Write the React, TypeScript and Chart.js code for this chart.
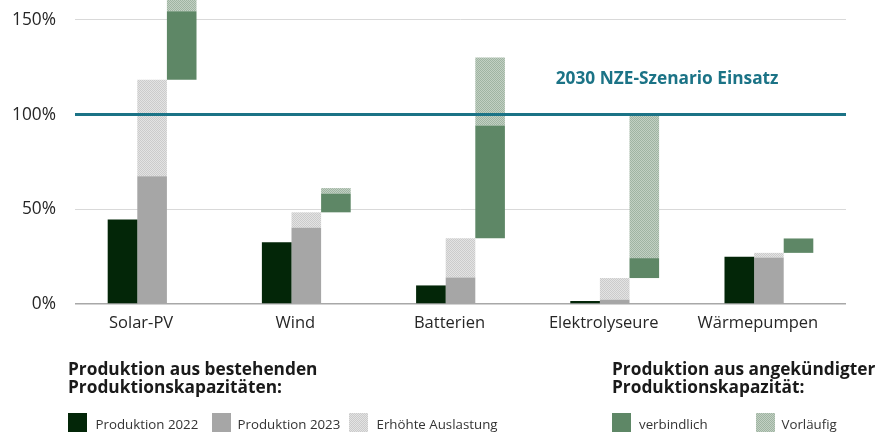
import React, { useEffect, useRef } from "react";
import { Chart, registerables } from "chart.js";

Chart.register(...registerables);

const categories = ["Solar-PV", "Wind", "Batterien", "Elektrolyseure", "Wärmepumpen"];
// Levels reached (in % of 2030 NZE deployment)
const prod2022 = [44.6, 32.6, 9.8, 1.6, 25.0];
const prod2023 = [67.4, 40.2, 14.0, 2.3, 24.6];
const erhoehteAuslastung = [118.4, 48.4, 34.7, 13.7, 27.0];
const verbindlich = [154.6, 58.3, 94.2, 24.2, 34.6];
const vorlaeufig = [175.0, 61.2, 130.2, 100.0, 34.6];
const yTicks = [0, 50, 100, 150];
const nzeLevel = 100;
const nzeLabel = "2030 NZE-Szenario Einsatz";

const FONT = "'Open Sans', sans-serif";
const C2022 = "#032608";
const C2023 = "#a6a6a6";
const CVERB = "#5e8766";
const TEAL = "#1b7386";

function makePattern(c1: string, c2: string) {
  const cv = document.createElement("canvas");
  cv.width = 2;
  cv.height = 2;
  const g = cv.getContext("2d")!;
  g.fillStyle = c1;
  g.fillRect(0, 0, 2, 2);
  g.fillStyle = c2;
  g.fillRect(0, 0, 1, 1);
  g.fillRect(1, 1, 1, 1);
  return g.createPattern(cv, "repeat")!;
}

const float = (lo: number[], hi: number[]) => hi.map((h, i) => [lo[i], h]);
const zeros = categories.map(() => 0);

const nzePlugin = {
  id: "nzeLine",
  afterDatasetsDraw(chart: any) {
    const { ctx, chartArea, scales } = chart;
    const y = scales.y.getPixelForValue(nzeLevel);
    ctx.save();
    ctx.strokeStyle = TEAL;
    ctx.lineWidth = 3;
    ctx.beginPath();
    ctx.moveTo(chartArea.left, y);
    ctx.lineTo(chartArea.right, y);
    ctx.stroke();
    const x3 = scales.x.getPixelForValue(3);
    const x4 = scales.x.getPixelForValue(4);
    ctx.fillStyle = TEAL;
    ctx.font = `bold 17.3px ${FONT}`;
    ctx.textAlign = "center";
    ctx.textBaseline = "alphabetic";
    ctx.fillText(nzeLabel, x3 + (x4 - x3) * 0.34, scales.y.getPixelForValue(nzeLevel + 16));
    ctx.restore();
  },
};

export default function App() {
  const ref = useRef<HTMLCanvasElement>(null);
  useEffect(() => {
    const patGray = makePattern("#e3e3e3", "#cbcbcb");
    const patGreen = makePattern("#c2d0c3", "#9fb4a2");
    const chart = new Chart(ref.current!, {
      type: "bar",
      data: {
        labels: categories,
        datasets: [
          { label: "Produktion 2022", data: float(zeros, prod2022) as any, backgroundColor: C2022, stack: "a" },
          { label: "Produktion 2023", data: float(zeros, prod2023) as any, backgroundColor: C2023, stack: "b" },
          { label: "Erhöhte Auslastung", data: float(prod2023, erhoehteAuslastung) as any, backgroundColor: patGray as any, stack: "b" },
          { label: "verbindlich", data: float(erhoehteAuslastung, verbindlich) as any, backgroundColor: CVERB, stack: "c" },
          { label: "Vorläufig", data: float(verbindlich, vorlaeufig) as any, backgroundColor: patGreen as any, stack: "c" },
        ],
      },
      options: {
        responsive: false,
        animation: false,
        layout: { padding: { left: 0, right: 30, top: 0, bottom: 80 } },
        datasets: { bar: { barPercentage: 1, categoryPercentage: 0.576, borderWidth: 0 } },
        plugins: { legend: { display: false }, tooltip: { enabled: false } },
        scales: {
          x: {
            afterFit: (s: any) => { s.height = 50; s.paddingLeft = 0; s.paddingRight = 0; },
            grid: { display: false },
            border: { display: false },
            ticks: { font: { family: FONT, size: 16.5 }, color: "#262626", padding: 1, labelOffset: -11, maxRotation: 0, autoSkip: false },
          },
          y: {
            min: 0,
            max: 160.5,
            stacked: false,
            afterFit: (s: any) => { s.width = 75; s.paddingTop = 0; s.paddingBottom = 0; },
            afterBuildTicks: (s: any) => { s.ticks = yTicks.map((v) => ({ value: v })); },
            border: { display: false },
            grid: {
              drawTicks: false,
              color: (c: any) => (c.tick && c.tick.value === 0 ? "#a8a8a8" : "#d9d9d9"),
              lineWidth: (c: any) => (c.tick && c.tick.value === 0 ? 1.5 : 1),
            },
            ticks: { font: { family: FONT, size: 17.3 }, color: "#262626", padding: 19, callback: (v: any) => `${v}%` },
          },
        },
      },
      plugins: [nzePlugin],
    });
    return () => chart.destroy();
  }, []);

  const txt: React.CSSProperties = { position: "absolute", top: 415, fontFamily: FONT, fontSize: 13.3, lineHeight: "19px", color: "#333", whiteSpace: "nowrap" };
  const sq = (left: number, bg: string): React.CSSProperties => ({ position: "absolute", left, top: 413, width: 19, height: 19, background: bg });
  const title: React.CSSProperties = { position: "absolute", top: 360, fontFamily: FONT, fontSize: 17.3, fontWeight: 700, lineHeight: "18.3px", color: "#1a1a1a", whiteSpace: "nowrap" };
  const grayPat = "repeating-conic-gradient(#cbcbcb 0 25%, #e3e3e3 0 50%) 0 0 / 2px 2px";
  const greenPat = "repeating-conic-gradient(#9fb4a2 0 25%, #c2d0c3 0 50%) 0 0 / 2px 2px";

  return (
    <div style={{ position: "absolute", left: 0, top: 0, width: 876, height: 434, overflow: "hidden", background: "#fff" }}>
      <canvas ref={ref} width={876} height={434} style={{ position: "absolute", left: 0, top: 0, width: 876, height: 434 }} />
      <div style={{ ...title, left: 68 }}>Produktion aus bestehenden<br />Produktionskapazitäten:</div>
      <div style={{ ...title, left: 612 }}>Produktion aus angekündigter<br />Produktionskapazität:</div>
      <div style={sq(68, C2022)} />
      <div style={{ ...txt, left: 95.5 }}>Produktion 2022</div>
      <div style={sq(212, C2023)} />
      <div style={{ ...txt, left: 237.5 }}>Produktion 2023</div>
      <div style={sq(349, grayPat)} />
      <div style={{ ...txt, left: 376.5 }}>Erhöhte Auslastung</div>
      <div style={sq(612, CVERB)} />
      <div style={{ ...txt, left: 639 }}>verbindlich</div>
      <div style={sq(756, greenPat)} />
      <div style={{ ...txt, left: 781.5 }}>Vorläufig</div>
    </div>
  );
}
